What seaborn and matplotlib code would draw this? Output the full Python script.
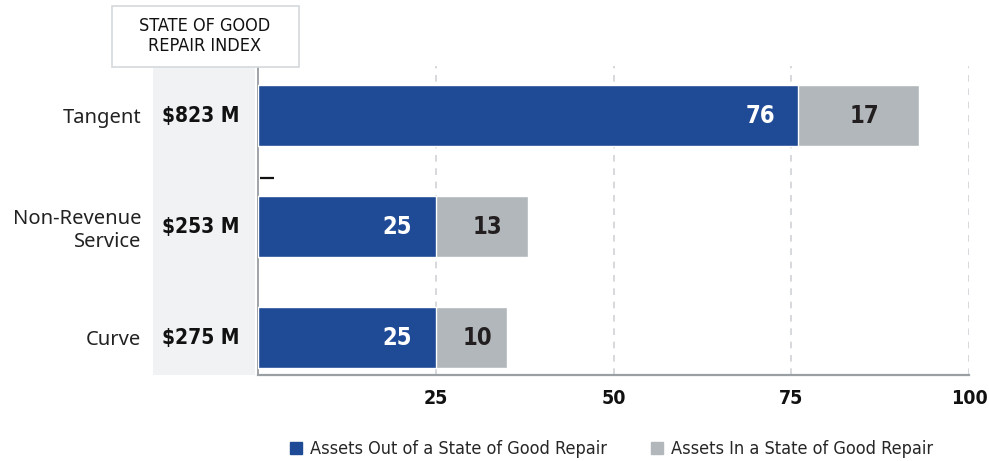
import matplotlib
matplotlib.use("Agg")
import matplotlib.pyplot as plt
from matplotlib.patches import Rectangle
from matplotlib.lines import Line2D
import matplotlib.transforms as mtransforms
import seaborn as sns
import pandas as pd

categories = ["Tangent", "Non-Revenue\nService", "Curve"]
out_of_sgr = [76, 25, 25]
in_sgr = [17, 13, 10]
index_values = ["$823 M", "$253 M", "$275 M"]
x_ticks = [25, 50, 75, 100]
legend_labels = ["Assets Out of a State of Good Repair", "Assets In a State of Good Repair"]
header = "STATE OF GOOD\nREPAIR INDEX"

BLUE = "#1f4a96"
GRAY = "#b1b7ba"

sns.set_theme(style="white")
plt.rcParams["font.family"] = ["Noto Sans", "DejaVu Sans"]

def nfont(size, weight="normal"):
    return dict(family="DejaVu Sans", stretch="condensed", size=size, weight=weight)

df = pd.DataFrame({"cat": categories, "out": out_of_sgr, "inn": in_sgr})
df["total"] = df["out"] + df["inn"]

fig = plt.figure(figsize=(9.89, 4.61), dpi=100)
ax = fig.add_axes([258/989, 86/461, 711/989, 309/461])

fig.patches.append(Rectangle((153/989, 86/461), 102/989, 310/461,
                             transform=fig.transFigure, facecolor="#f1f2f4",
                             edgecolor="none", zorder=-5))
fig.patches.append(Rectangle((112/989, 394/461), 187/989, 61/461,
                             transform=fig.transFigure, facecolor="white",
                             edgecolor="#d6d9dc", linewidth=1.2, zorder=1))
fig.text(205/989, 425/461, header, ha="center", va="center",
         color="#111111", linespacing=1.1, zorder=2, **nfont(13))

sns.barplot(data=df, x="total", y="cat", color=GRAY, width=0.55, ax=ax,
            saturation=1, zorder=3)
sns.barplot(data=df, x="out", y="cat", color=BLUE, width=0.55, ax=ax,
            saturation=1, zorder=4)

for i, (o, n) in enumerate(zip(out_of_sgr, in_sgr)):
    ax.text(o - 3.3, i, str(o), ha="right", va="center", color="white",
            zorder=5, **nfont(17, "bold"))
    ax.text(o + n / 2 + 0.8, i, str(n), ha="center", va="center", color="#231f20",
            zorder=5, **nfont(17, "bold"))

trans = mtransforms.blended_transform_factory(ax.transAxes, ax.transData)
for i, v in enumerate(index_values):
    ax.text(-0.080, i, v, transform=trans, ha="center", va="center",
            color="#111111", clip_on=False, zorder=6, **nfont(15, "bold"))

ax.set_xlim(0, 100)
ax.set_ylim(2.335, -0.45)
ax.set_xticks(x_ticks)
ax.set_xticklabels([str(t) for t in x_ticks], color="#111111", **nfont(14, "bold"))
ax.set_yticks(range(len(categories)))
ax.set_yticklabels(categories, fontsize=14.5, color="#222222")
ax.tick_params(axis="y", length=0, pad=84)
ax.tick_params(axis="x", length=0, pad=10)
ax.set_xlabel("")
ax.set_ylabel("")
ax.patch.set_alpha(0)

for t in x_ticks:
    ax.axvline(t, color="#cfd2d5", linestyle=(0, (4, 4)), linewidth=1.2, zorder=1)

for s in ["top", "right"]:
    ax.spines[s].set_visible(False)
ax.spines["left"].set_color("#8f9499")
ax.spines["left"].set_linewidth(1.2)
ax.spines["bottom"].set_color("#9a9fa4")
ax.spines["bottom"].set_linewidth(1.6)

ax.plot([0.3, 2.3], [0.555, 0.555], color="#111111", linewidth=1.6,
        solid_capstyle="butt", zorder=5, clip_on=False)

handles = [Line2D([], [], marker="s", linestyle="none", markersize=9,
                  markerfacecolor=BLUE, markeredgecolor=BLUE),
           Line2D([], [], marker="s", linestyle="none", markersize=9,
                  markerfacecolor=GRAY, markeredgecolor=GRAY)]
fig.legend(handles, legend_labels, loc="center", bbox_to_anchor=(611/989, 12/461),
           ncol=2, frameon=False, prop=nfont(13),
           handletextpad=0.35, columnspacing=2.4, handlelength=0.8)

fig.savefig("out.png", dpi=100)
